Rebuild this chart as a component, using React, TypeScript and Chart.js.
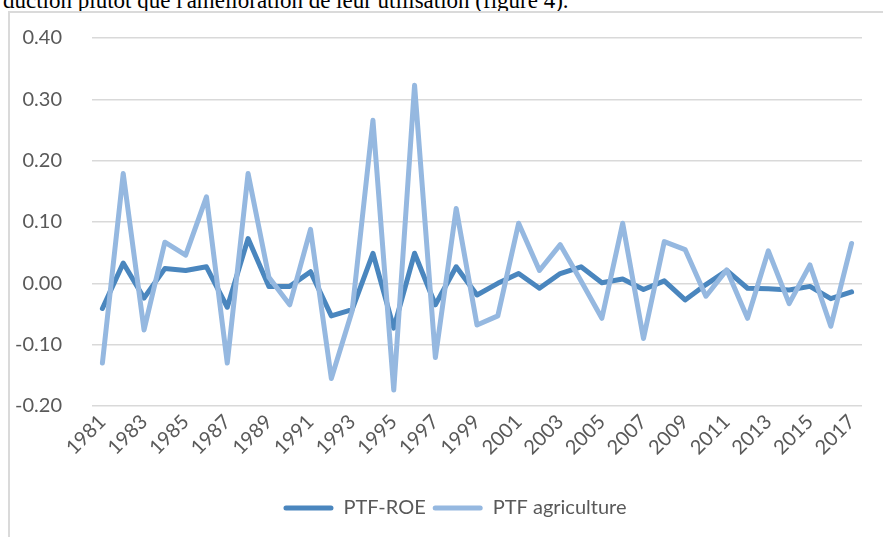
import React, { useEffect, useRef } from "react";
import { Chart, registerables } from "chart.js";

Chart.register(...registerables);

const years: string[] = [
  "1981", "1982", "1983", "1984", "1985", "1986", "1987", "1988", "1989", "1990",
  "1991", "1992", "1993", "1994", "1995", "1996", "1997", "1998", "1999", "2000",
  "2001", "2002", "2003", "2004", "2005", "2006", "2007", "2008", "2009", "2010",
  "2011", "2012", "2013", "2014", "2015", "2016", "2017",
];

const ptfRoe: number[] = [
  -0.041, 0.033, -0.024, 0.024, 0.021, 0.027, -0.039, 0.073, -0.005, -0.005,
  0.019, -0.053, -0.043, 0.049, -0.073, 0.049, -0.035, 0.027, -0.019, 0.0,
  0.016, -0.008, 0.016, 0.027, 0.001, 0.007, -0.01, 0.004, -0.027, -0.002,
  0.021, -0.008, -0.009, -0.011, -0.005, -0.025, -0.014,
];

const ptfAgriculture: number[] = [
  -0.13, 0.179, -0.076, 0.067, 0.046, 0.141, -0.13, 0.179, 0.01, -0.035,
  0.088, -0.155, -0.045, 0.266, -0.174, 0.323, -0.121, 0.122, -0.068, -0.053,
  0.098, 0.021, 0.063, 0.004, -0.057, 0.098, -0.09, 0.068, 0.055, -0.021,
  0.022, -0.057, 0.053, -0.033, 0.03, -0.07, 0.065,
];

const seriesNames: string[] = ["PTF-ROE", "PTF agriculture"];
const yMin = -0.2;
const yMax = 0.4;
const yStep = 0.1;

const DARK = "#4A86BE";
const LIGHT = "#95B8E0";
const TEXT = "#595959";
const GRID = "#d9d9d9";
const FONT = "Lato, 'Open Sans', sans-serif";

const shiftLegend = {
  id: "shiftLegend",
  afterLayout(chart: any) {
    const l = chart.legend;
    if (l) {
      l.left += 24;
      l.right += 24;
    }
  },
};

export default function App() {
  const ref = useRef<HTMLCanvasElement>(null);

  useEffect(() => {
    if (!ref.current) return;
    const chart = new Chart(ref.current, {
      type: "line",
      plugins: [shiftLegend],
      data: {
        labels: years,
        datasets: [
          {
            label: seriesNames[0],
            data: ptfRoe,
            borderColor: DARK,
            backgroundColor: DARK,
            borderWidth: 5,
            pointRadius: 0,
            tension: 0,
            borderJoinStyle: "round",
            borderCapStyle: "round",
            order: 1,
          },
          {
            label: seriesNames[1],
            data: ptfAgriculture,
            borderColor: LIGHT,
            backgroundColor: LIGHT,
            borderWidth: 5,
            pointRadius: 0,
            tension: 0,
            borderJoinStyle: "round",
            borderCapStyle: "round",
            order: 0,
          },
        ],
      },
      options: {
        responsive: false,
        animation: false,
        events: [],
        layout: { padding: { top: 0, right: 48, bottom: 9, left: 0 } },
        scales: {
          x: {
            offset: true,
            grid: { display: false, drawTicks: false },
            border: { display: false },
            ticks: {
              autoSkip: false,
              maxRotation: 45,
              minRotation: 45,
              padding: 4,
              color: TEXT,
              font: { family: FONT, size: 20 },
              callback: (_v: any, i: number) => (i % 2 === 0 ? years[i] : ""),
            },
            afterFit: (s: any) => {
              s.height = 85;
            },
          },
          y: {
            min: yMin,
            max: yMax,
            grid: { color: GRID, lineWidth: 1.5, drawTicks: false },
            border: { display: false },
            ticks: {
              stepSize: yStep,
              padding: 30,
              color: TEXT,
              font: { family: FONT, size: 20, lineHeight: 0.8 },
              callback: (v: any) => {
                const n = Number(v);
                return Math.abs(n) < 1e-9 ? "0.00" : n.toFixed(2);
              },
            },
            afterFit: (s: any) => {
              s.width = 92;
            },
          },
        },
        plugins: {
          legend: {
            position: "bottom",
            labels: {
              color: TEXT,
              font: { family: FONT, size: 20 },
              boxWidth: 50,
              boxHeight: 5,
              padding: 7,
              useBorderRadius: true,
              borderRadius: 2.5,
              sort: (a: any, b: any) => a.datasetIndex - b.datasetIndex,
              generateLabels: (c: any) =>
                (Chart.defaults.plugins.legend.labels.generateLabels as any)(c).map((l: any) => ({
                  ...l,
                  lineWidth: 0,
                })),
            },
          },
          tooltip: { enabled: false },
        },
      } as any,
    });
    return () => chart.destroy();
  }, []);

  return (
    <div
      style={{
        position: "fixed",
        left: 0,
        top: 0,
        width: 883,
        height: 537,
        overflow: "hidden",
        background: "#fff",
      }}
    >
      <div
        style={{
          position: "absolute",
          left: 3,
          top: -11.5,
          whiteSpace: "nowrap",
          fontFamily: "'Liberation Serif', 'Times New Roman', serif",
          fontSize: 23,
          lineHeight: "23px",
          color: "#000",
        }}
      >
        duction plutôt que l'amélioration de leur utilisation (figure 4).
      </div>
      <div
        style={{
          position: "absolute",
          left: 8,
          top: 11,
          width: 1000,
          height: 1000,
          border: "2px solid #dadada",
          boxSizing: "border-box",
        }}
      />
      <canvas
        ref={ref}
        width={910}
        height={537}
        style={{ position: "absolute", left: 0, top: 0, width: 910, height: 537 }}
      />
    </div>
  );
}
